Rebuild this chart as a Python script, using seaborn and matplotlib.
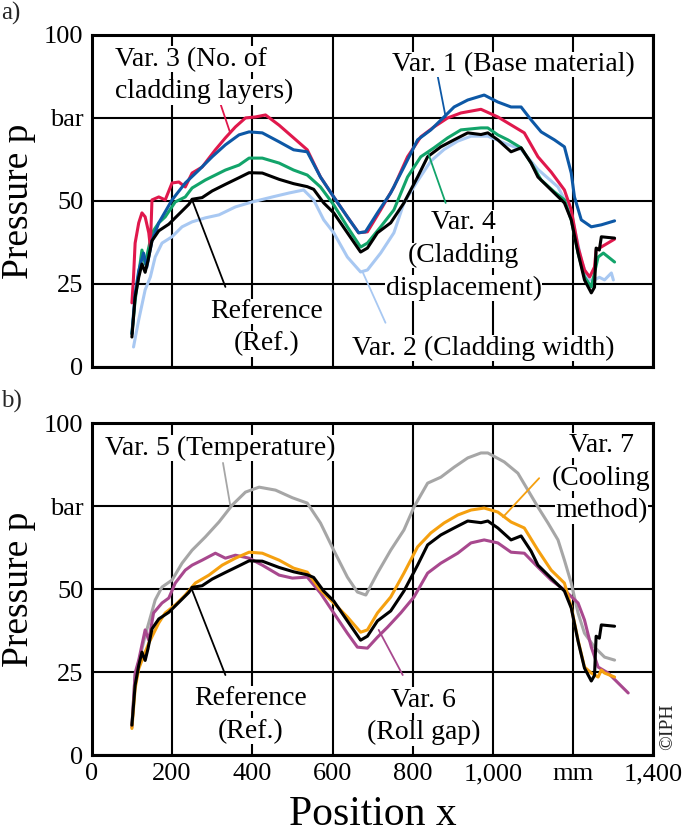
import pandas as pd
import seaborn as sns
import matplotlib.pyplot as plt

# ---- data (x in mm, p in bar) ----
ref_x = [100, 104, 108, 117, 125, 133, 140, 150, 167, 192, 217, 242, 250, 275, 300, 333, 367, 392, 425, 467,
         503, 537, 553, 578, 603, 637, 670, 687, 712, 745, 778, 812, 837, 870, 903, 937, 970, 987, 1012, 1045,
         1070, 1095, 1112, 1145, 1178, 1195, 1212, 1228, 1245, 1253, 1257, 1265, 1270, 1303]
ref_y = [9, 15, 21, 27, 31, 28.5, 32, 38, 41, 43, 46, 49, 50.5, 51, 53, 55, 57, 58.5, 58.4, 56.5,
         55.2, 54.3, 53.5, 49.4, 46.4, 40.4, 34.6, 35.8, 40.4, 43.4, 49.4, 57.2, 63.3, 66.3, 68.4, 70.5, 70, 70.5, 68.4, 64.8,
         66, 61.4, 57.2, 53.3, 49.4, 44.3, 34.3, 26.2, 22.3, 24, 35.8, 35.2, 39.2, 38.8]

# panel a
v1_x = [100, 108, 117, 129, 137, 150, 167, 200, 233, 267, 300, 333, 367, 392, 425, 467, 503, 537, 570, 603,
        637, 665, 682, 712, 745, 778, 812, 845, 878, 903, 937, 978, 1012, 1045, 1070, 1095, 1120, 1153, 1178, 1195,
        1203, 1220, 1245, 1270, 1303]
v1_y = [10, 22, 29, 34.3, 30, 38, 43.4, 50.3, 55.4, 59.3, 63.3, 66.9, 69.9, 70.8, 70.5, 67.8, 65.4, 64.8, 57.2, 51.2,
        45.2, 40.4, 40.7, 46.4, 52.4, 60.2, 68.4, 71.4, 75.3, 78.3, 80.4, 81.9, 79.8, 78.3, 78.3, 74.4, 70.8, 68.4, 66.3, 58.4,
        51.2, 44.3, 42.2, 42.8, 44]

v2_x = [104, 117, 133, 146, 158, 175, 200, 225, 250, 283, 317, 358, 400, 450, 492, 528, 553, 578, 603, 637,
        670, 687, 720, 753, 778, 812, 845, 878, 912, 945, 987, 1037, 1070, 1112, 1162, 1195, 1220, 1237, 1253, 1265,
        1278, 1295, 1300]
v2_y = [6, 14.2, 23.2, 27.1, 33.1, 37.3, 39.2, 42.2, 43.7, 44.9, 45.8, 48.2, 49.7, 51.2, 52.4, 53.3, 50.3, 44.3, 40.4, 33.1,
        28.6, 29.2, 34.3, 40.4, 49.4, 56, 62, 65.5, 68, 69.5, 69.5, 67, 65.5, 59.5, 54.2, 46.4, 32.2, 26.2, 26.2, 27,
        26.2, 28.3, 26.2]

v3_x = [100, 104, 108, 117, 125, 133, 142, 146, 150, 167, 183, 200, 217, 233, 250, 275, 308, 333, 358, 383,
        408, 433, 467, 503, 537, 570, 603, 637, 665, 687, 720, 753, 787, 820, 853, 887, 920, 970, 1012, 1045,
        1078, 1112, 1145, 1178, 1195, 1212, 1228, 1241, 1253, 1257, 1303]
v3_y = [19.3, 27, 37.3, 43.4, 46.4, 45.2, 40.4, 36.1, 50.3, 51.2, 50.3, 55.4, 55.7, 54.2, 58.4, 60.2, 65.4, 69, 72.3, 75,
        75.3, 75.9, 72.8, 69, 65.4, 57.2, 51.2, 45.2, 40.4, 40.7, 47.3, 54.2, 63.3, 69.3, 72.3, 75, 76.5, 77.6, 75.3, 72.9,
        70.5, 63.3, 58.7, 53.3, 47.3, 36.1, 29.2, 27.1, 30.1, 35.2, 38.5]

v4_x = [100, 108, 117, 125, 133, 142, 150, 167, 183, 208, 233, 250, 283, 308, 333, 367, 392, 425, 467, 503,
        537, 570, 603, 637, 670, 687, 720, 753, 787, 820, 853, 887, 920, 970, 987, 1012, 1037, 1070, 1095, 1120,
        1153, 1178, 1195, 1212, 1228, 1245, 1262, 1275, 1303]
v4_y = [10, 20, 28, 35.2, 31, 36, 40.4, 43.4, 45.2, 49.7, 51.2, 53.9, 56.3, 57.8, 59.3, 60.8, 62.9, 62.9, 61.4, 59.3,
        57.8, 54.2, 48.8, 42.2, 36.1, 37.3, 42.2, 47.3, 57.2, 63.3, 66, 69, 71.4, 72, 72, 69.9, 68.4, 66, 61.4, 56.3,
        52.7, 50.3, 44.3, 34.3, 27.1, 24.1, 33.1, 34.3, 31.6]

# panel b
v5_x = [100, 108, 117, 133, 142, 158, 175, 200, 225, 250, 283, 317, 350, 383, 417, 458, 500, 537, 570, 603,
        637, 662, 683, 712, 745, 778, 803, 837, 870, 903, 937, 970, 987, 1028, 1062, 1087, 1112, 1137, 1162, 1178,
        1195, 1212, 1228, 1253, 1278, 1303]
v5_y = [9, 24, 28, 36, 39.8, 46.7, 50.6, 52.7, 57.8, 61.7, 65.7, 70.2, 75.3, 79.2, 80.7, 79.8, 77.5, 75.9, 69.9, 61.7,
        53.6, 49.1, 48.2, 54.8, 61.7, 67.8, 74.7, 81.9, 83.7, 86.7, 89.5, 91, 91, 88.3, 84.9, 79.8, 74.7, 69.9, 64.8, 58.7,
        51.8, 42.8, 36.7, 32.5, 29.5, 28.6]

v6_x = [100, 108, 117, 133, 142, 154, 175, 192, 208, 233, 250, 275, 308, 333, 358, 392, 425, 467, 500, 537,
        570, 603, 637, 662, 687, 712, 737, 770, 803, 837, 870, 912, 945, 978, 1012, 1045, 1078, 1112, 1145, 1178,
        1212, 1228, 1245, 1262, 1287, 1312, 1337]
v6_y = [8.4, 24.7, 28.6, 37.7, 34.6, 42.8, 45.8, 47.3, 51.8, 55.7, 57.2, 58.7, 60.8, 59.3, 60.2, 59.3, 57.2, 54.2, 53.3, 53.6,
        48.8, 42.8, 36.7, 32.5, 32.2, 35.5, 38.5, 42.8, 47.6, 54.8, 57.8, 60.8, 63.9, 64.8, 63.9, 61.1, 60.8, 56.6, 52.7, 49.7,
        45.8, 40.7, 32.5, 26.5, 24.7, 21.7, 18.7]

v7_x = [100, 108, 117, 133, 142, 167, 183, 208, 233, 258, 292, 325, 358, 392, 425, 467, 503, 537, 570, 603,
        637, 670, 687, 712, 745, 778, 812, 845, 878, 912, 945, 978, 1012, 1045, 1078, 1112, 1145, 1178, 1195, 1212,
        1228, 1245, 1262, 1270, 1278, 1303]
v7_y = [8, 20, 26, 31, 33.7, 39.8, 42.8, 45.2, 48.2, 51.8, 54.2, 57.2, 59.3, 61.1, 60.8, 58.7, 56.3, 55.1, 49.7, 45.8,
        41.6, 37, 37.7, 42.8, 47.6, 54.8, 62.7, 66.9, 69.9, 72.3, 73.8, 74.4, 73.2, 70.2, 68.4, 61.7, 55.7, 51.8, 44.6, 34.6,
        26.5, 24.7, 23.5, 25.6, 24.7, 23.5]

y_ticks = [0, 25, 50, 75, 100]
y_labels = ['0', '25', '50', 'bar', '100']
x_ticks = [0, 200, 400, 600, 800, 1000, 1200, 1400]
x_labels = ['0', '200', '400', '600', '800', '1,000', 'mm', '1,400']

colors = {'v1': '#0d58a6', 'v2': '#a8c8f2', 'v3': '#e0184c', 'v4': '#12a46a', 'ref': 'black',
          'v5': '#a6a6a6', 'v6': '#a8488e', 'v7': '#f5a00f'}

sns.set_theme(style='white')
plt.rcParams['font.family'] = ['Liberation Serif', 'DejaVu Serif']

fig = plt.figure(figsize=(6.85, 8.32), dpi=100)
ax_a = fig.add_axes([0.134, 0.559, 0.820, 0.399])
ax_b = fig.add_axes([0.134, 0.0925, 0.820, 0.399])

TXT = 20
LH = 23.5  # line spacing of the callouts, points


def setup(ax, show_x):
    ax.set_xlim(0, 1400)
    ax.set_ylim(0, 100)
    ax.set_yticks(y_ticks)
    ax.set_yticklabels(y_labels)
    ax.set_xticks(x_ticks)
    ax.set_xticklabels(x_labels if show_x else [])
    ax.tick_params(length=0, labelsize=19, pad=6, colors='black')
    ax.grid(True, color='black', lw=1.5)
    ax.set_axisbelow(True)
    for s in ax.spines.values():
        s.set_visible(True)
        s.set_color('black')
        s.set_linewidth(2.2)
    ax.set_ylabel('Pressure p', fontsize=27, color='black')
    ax.yaxis.set_label_coords(-0.099, 0.5)


def draw(ax, x, y, key):
    sns.lineplot(x=x, y=y, ax=ax, color=colors[key], lw=2.2, estimator=None, sort=False)


def label(ax, x, y, lines, start, end, key, ha='center'):
    ax.annotate('', xy=end, xytext=start,
                arrowprops=dict(arrowstyle='-', color=colors[key], lw=1.3, shrinkA=0, shrinkB=0))
    n = len(lines)
    for i, s in enumerate(lines):
        off = ((n - 1) / 2 - i) * LH
        ax.annotate(s, xy=(x, y), xytext=(0, off), textcoords='offset points',
                    fontsize=TXT, ha=ha, va='center_baseline', color='black',
                    bbox=dict(facecolor='white', edgecolor='none', pad=0.3), zorder=5)


# ---- panel a ----
setup(ax_a, False)
draw(ax_a, v2_x, v2_y, 'v2')
draw(ax_a, v4_x, v4_y, 'v4')
draw(ax_a, v3_x, v3_y, 'v3')
draw(ax_a, v1_x, v1_y, 'v1')
draw(ax_a, ref_x, ref_y, 'ref')
label(ax_a, 57, 88.7, ['Var. 3 (No. of', 'cladding layers)'], (320, 79.5), (345, 70.5), 'v3', ha='left')
label(ax_a, 1052, 92, ['Var. 1 (Base material)'], (862, 87.7), (882, 75.3), 'v1')
label(ax_a, 927, 34.5, ['Var. 4', '(Cladding', 'displacement)'], (882, 49.4), (838, 64.5), 'v4')
label(ax_a, 975, 6.6, ['Var. 2 (Cladding width)'], (732, 13.3), (675, 28.6), 'v2')
label(ax_a, 435, 12.7, ['Reference', '(Ref.)'], (333, 24.1), (250, 50.3), 'ref')

# ---- panel b ----
setup(ax_b, True)
draw(ax_b, v5_x, v5_y, 'v5')
draw(ax_b, v6_x, v6_y, 'v6')
draw(ax_b, v7_x, v7_y, 'v7')
draw(ax_b, ref_x, ref_y, 'ref')
label(ax_b, 319, 93.4, ['Var. 5 (Temperature)'], (327, 88), (345, 75.3), 'v5')
label(ax_b, 1270, 84.3, ['Var. 7', '(Cooling', 'method)'], (1115, 83.4), (1025, 71.7), 'v7')
label(ax_b, 827, 12.5, ['Var. 6', '(Roll gap)'], (775, 24.1), (715, 37.7), 'v6')
label(ax_b, 395, 13, ['Reference', '(Ref.)'], (333, 24.1), (250, 49.7), 'ref')
ax_b.set_xlabel('Position x', fontsize=30, color='black', labelpad=7)

fig.text(0.002, 0.998, 'a)', fontsize=18, va='top', ha='left')
fig.text(0.002, 0.531, 'b)', fontsize=18, va='top', ha='left')
fig.text(0.975, 0.127, '\u00a9IPH', fontsize=14, rotation=90, ha='center', va='center')

fig.savefig('out.png', dpi=100, facecolor='white')
